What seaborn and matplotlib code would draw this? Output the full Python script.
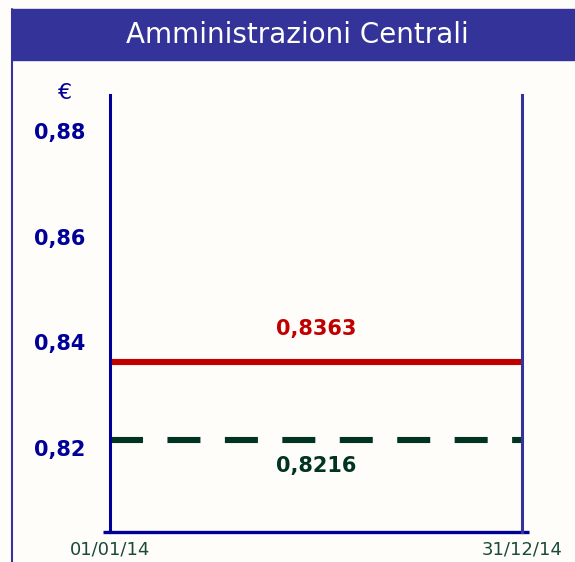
import matplotlib
matplotlib.use("Agg")
import matplotlib.pyplot as plt
import matplotlib.patches as mpatches
import matplotlib.dates as mdates
import seaborn as sns
import pandas as pd
import numpy as np

# Data
dates = ["2014-01-01", "2014-12-31"]
date_labels = ["01/01/14", "31/12/14"]
series_names = ["Rata", "Media"]
series_values = [0.8363, 0.8216]
value_labels = ["0,8363", "0,8216"]
yticks = [0.82, 0.84, 0.86, 0.88]
ytick_labels = ["0,82", "0,84", "0,86", "0,88"]
title = "Amministrazioni Centrali"

sns.set_theme(style="white")
plt.rcParams['font.family'] = ['DejaVu Sans']

bg = "#FFFDF9"
navy = "#000099"
bar_color = "#333399"
red = "#C00000"
green = "#003322"
date_green = "#1A4A38"

rows = []
for name, v in zip(series_names, series_values):
    for d in dates:
        rows.append({"date": pd.Timestamp(d), "value": v, "series": name})
df = pd.DataFrame(rows)

fig = plt.figure(figsize=(5.75, 5.62), dpi=100, facecolor=bg)
ax = fig.add_axes([110/575, 1-532/562, (522-110)/575, (532-95)/562])
ax.set_facecolor(bg)

sns.lineplot(data=df, x="date", y="value", hue="series", style="series",
             palette={series_names[0]: red, series_names[1]: green},
             dashes={series_names[0]: "", series_names[1]: (5.4, 4.0)},
             linewidth=4.4, legend=False, ax=ax)

x0, x1 = mdates.date2num(pd.Timestamp(dates[0])), mdates.date2num(pd.Timestamp(dates[1]))
ax.set_xlim(x0, x1)
ax.set_ylim(0.8041, 0.8868)

for sp in ["top", "bottom"]:
    ax.spines[sp].set_visible(False)
ax.spines["left"].set_color(navy)
ax.spines["left"].set_linewidth(2.2)
ax.spines["right"].set_color(bar_color)
ax.spines["right"].set_linewidth(2.2)
# bottom axis line slightly extended
ax.plot([-0.017, 1.017], [0, 0], transform=ax.transAxes, color=navy, lw=2.4,
        clip_on=False, solid_capstyle="butt")

ax.set_yticks(yticks)
ax.set_yticklabels(ytick_labels, color=navy, fontsize=15, fontweight="bold")
ax.tick_params(axis="y", length=0, pad=18)
ax.set_xticks([x0, x1])
ax.set_xticklabels(date_labels, color=date_green, fontsize=13)
ax.tick_params(axis="x", length=0, pad=6)
ax.set_xlabel("")
ax.set_ylabel("")

xm = (x0 + x1) / 2
ax.text(xm, series_values[0] + 0.0062, value_labels[0], color=red, fontsize=15,
        fontweight="bold", ha="center", va="center")
ax.text(xm, series_values[1] - 0.0050, value_labels[1], color=green, fontsize=15,
        fontweight="bold", ha="center", va="center")

# Euro sign
fig.text(65/575, 1-93/562, "€", color=navy, fontsize=16, ha="center", va="center")

# Title bar
fig.patches.append(mpatches.Rectangle((12/575, 1-60/562), 1, 51/562,
                                      transform=fig.transFigure, color=bar_color, zorder=0))
fig.text(297/575, 1-35/562, title, color="white", fontsize=20, ha="center", va="center")
# left border
fig.add_artist(plt.Line2D([12/575, 12/575], [0, 1-9/562], transform=fig.transFigure,
                          color=bar_color, lw=1.5))

fig.savefig("out.png", dpi=100, facecolor=bg)
